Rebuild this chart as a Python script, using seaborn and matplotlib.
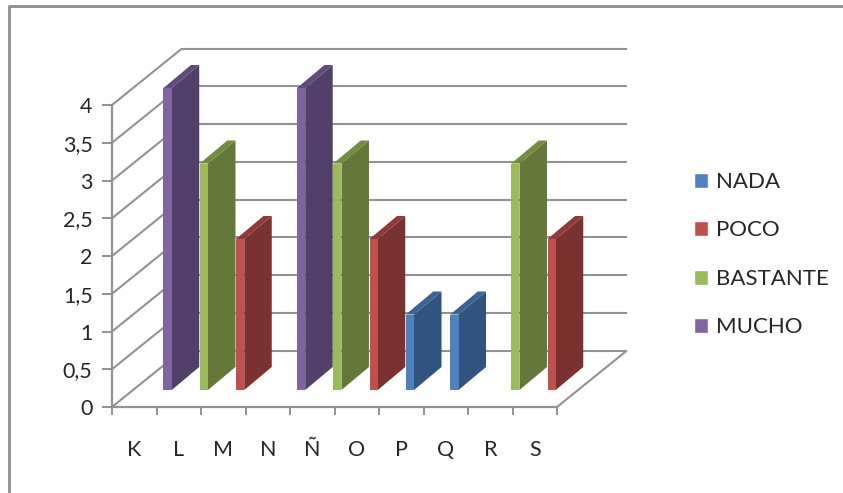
import numpy as np
import pandas as pd
import matplotlib
matplotlib.use("Agg")
import matplotlib.pyplot as plt
from matplotlib.lines import Line2D
from matplotlib.patches import Polygon
import seaborn as sns

# Survey answers per item; NaN marks an answer nobody chose
categories = ["K", "L", "M", "N", "Ñ", "O", "P", "Q", "R", "S"]
nada = [np.nan, np.nan, np.nan, np.nan, np.nan, np.nan, 1, 1, np.nan, np.nan]
poco = [np.nan, np.nan, 2, np.nan, np.nan, 2, np.nan, np.nan, np.nan, 2]
bastante = [np.nan, 3, np.nan, np.nan, 3, np.nan, np.nan, np.nan, 3, np.nan]
mucho = [4, np.nan, np.nan, 4, np.nan, np.nan, np.nan, np.nan, np.nan, np.nan]
series_names = ["NADA", "POCO", "BASTANTE", "MUCHO"]
value_ticks = [0, 0.5, 1, 1.5, 2, 2.5, 3, 3.5, 4]
value_labels = ["0", "0,5", "1", "1,5", "2", "2,5", "3", "3,5", "4"]

front_colors = ["#4F81BD", "#C0504D", "#9BBB59", "#8064A2"]
side_colors = ["#30547F", "#7A3230", "#647839", "#53406A"]
top_colors = ["#3A6496", "#8E3A38", "#748C42", "#614B7C"]
GRID = "#929292"
TEXT = "#262626"

W, H = 843, 493
sns.set_theme(style="white")
plt.rcParams["font.family"] = ["Lato", "DejaVu Sans"]

fig = plt.figure(figsize=(W / 100, H / 100), dpi=100, facecolor="white")
left, right, top, bottom = 112, 557, 105, 407
ax = fig.add_axes([left / W, 1 - bottom / H, (right - left) / W, (bottom - top) / H])
ax.patch.set_alpha(0)

df = pd.DataFrame({"item": categories, "NADA": nada, "POCO": poco,
                   "BASTANTE": bastante, "MUCHO": mucho})
long_df = df.melt(id_vars="item", var_name="respuesta", value_name="valor").dropna()

sns.barplot(data=long_df, x="item", y="valor", hue="respuesta",
            order=categories, hue_order=series_names, dodge=True,
            palette=front_colors, width=0.74, saturation=1, ax=ax)
ax.set_xlim(-0.5, len(categories) - 0.5)
ax.set_ylim(0, 4)
ax.set_xlabel("")
ax.set_ylabel("")

# Pixel-to-data scales used by the oblique projection
px_x = (len(categories)) / (right - left)
px_y = 4 / (bottom - top)
wall_dx, wall_dy = 70 * px_x, 56.5 * px_y
bar_off_x, bar_off_y = 21 * px_x, 17 * px_y
bar_dx, bar_dy = 27.5 * px_x, 23 * px_y

# Back wall, side wall and floor
xmin, xmax = ax.get_xlim()
grid_kw = dict(color=GRID, lw=1.5, clip_on=False, zorder=1, solid_capstyle="butt")
for v in value_ticks:
    ax.plot([xmin + wall_dx, xmax + wall_dx], [v + wall_dy] * 2, **grid_kw)
    ax.plot([xmin, xmin + wall_dx], [v, v + wall_dy], **grid_kw)
ax.plot([xmax, xmax + wall_dx], [0, wall_dy], **grid_kw)

# Extrude each bar, painting from left to right
for i, container in enumerate(ax.containers):
    for bar in container:
        h = bar.get_height()
        if not np.isfinite(h) or h == 0:
            continue
        x0 = bar.get_x() + bar_off_x
        x1 = x0 + bar.get_width()
        y0 = bar_off_y
        y1 = h + bar_off_y
        order = 3 + x0
        bar.set_x(x0)
        bar.set_y(y0)
        bar.set_edgecolor("none")
        bar.set_clip_on(False)
        bar.set_zorder(order + 0.2)
        ax.add_patch(Polygon([(x1, y0), (x1 + bar_dx, y0 + bar_dy),
                              (x1 + bar_dx, y1 + bar_dy), (x1, y1)],
                             fc=side_colors[i], ec="none", clip_on=False, zorder=order))
        ax.add_patch(Polygon([(x0, y1), (x1, y1), (x1 + bar_dx, y1 + bar_dy),
                              (x0 + bar_dx, y1 + bar_dy)],
                             fc=top_colors[i], ec="none", clip_on=False, zorder=order + 0.1))

# Axes: front edges, outward ticks and comma decimals
sns.despine(ax=ax)
for side in ("left", "bottom"):
    ax.spines[side].set_color(GRID)
    ax.spines[side].set_linewidth(1.6)
ax.set_yticks(value_ticks)
ax.set_yticklabels(value_labels)
ax.set_xticks(range(len(categories)))
ax.set_xticklabels(categories)
ax.set_xticks(np.arange(xmin, xmax + 1), minor=True)
ax.tick_params(axis="y", length=7, width=1.4, color=GRID, left=True, labelsize=15.5,
               labelcolor=TEXT, pad=7)
ax.tick_params(axis="x", which="major", length=0, bottom=False, labelsize=15.5,
               labelcolor=TEXT, pad=24)
ax.tick_params(axis="x", which="minor", length=6, width=1.4, color=GRID, bottom=True)

sns.move_legend(ax, loc="upper left", bbox_to_anchor=(674 / W, 1 - 152 / H),
                bbox_transform=fig.transFigure, frameon=False, title=None,
                fontsize=16, handlelength=0.65, handleheight=0.65,
                handletextpad=0.35, labelspacing=1.28, labelcolor=TEXT)

# Outer frame, open at the right and bottom
frame_kw = dict(color="#8E8E8E", lw=2, transform=fig.transFigure, solid_capstyle="butt")
fig.add_artist(Line2D([8.5 / W, 8.5 / W], [0, 1 - 6 / H], **frame_kw))
fig.add_artist(Line2D([7.5 / W, 1], [1 - 6 / H, 1 - 6 / H], **frame_kw))

fig.savefig("out.png", dpi=100)
